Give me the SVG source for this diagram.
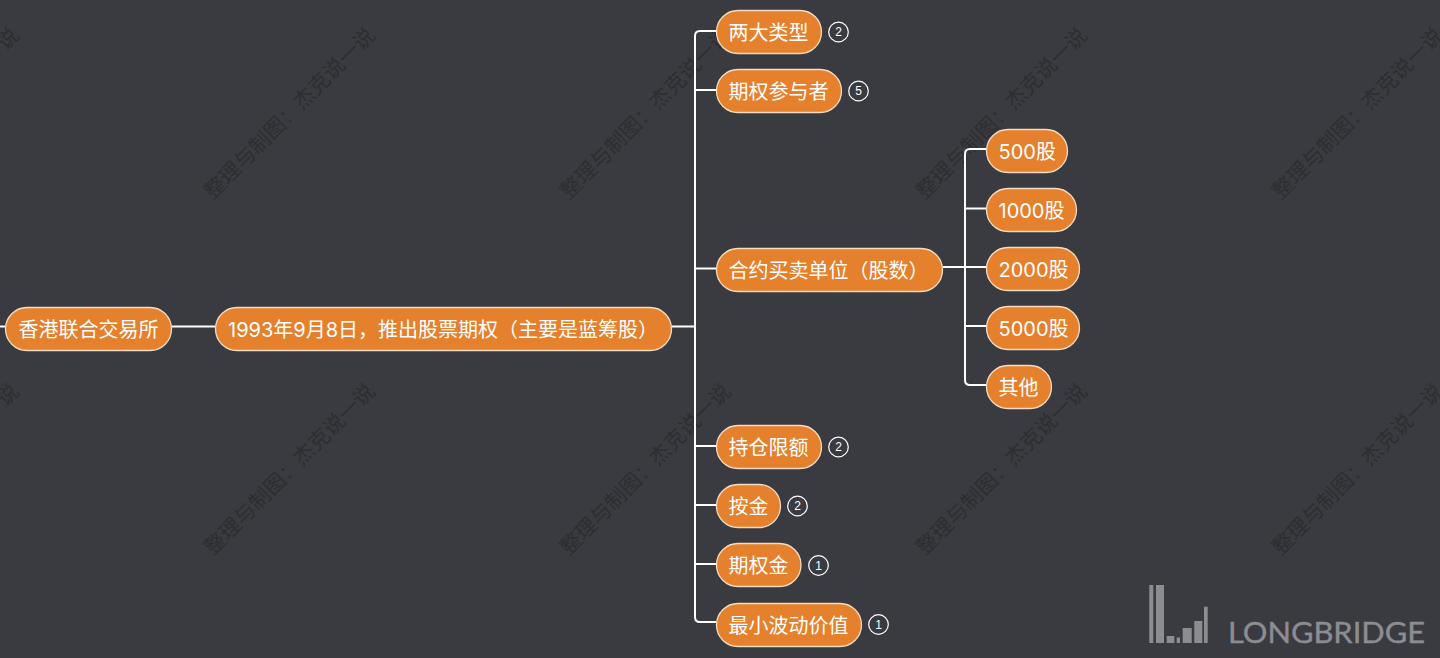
<svg xmlns="http://www.w3.org/2000/svg" width="1440" height="658" viewBox="0 0 1440 658">
<style>
.wm{font:21px "Noto Sans CJK SC","Noto Sans",sans-serif;fill:#2b2c30;opacity:.85}
.n rect{fill:#e5802c;stroke:#f6dcc0;stroke-width:1.3}
.n text{font:20px Inter,"Noto Sans CJK SC",sans-serif;fill:#fff}
.b circle{fill:none;stroke:#fff;stroke-width:1.2}
.b text{font:12px "Liberation Sans",sans-serif;fill:#fff;text-anchor:middle}
.c path{fill:none;stroke:#fff;stroke-width:2}
.l{fill:#8c8d91}
</style>
<defs><text id="w" class="wm" transform="rotate(-45)">整理与制图：杰克说一说</text></defs>
<rect width="1440" height="658" fill="#3a3b40"/>
<g id="watermarks">
<use href="#w" transform="translate(-143 200)"/><use href="#w" transform="translate(213 200)"/><use href="#w" transform="translate(569 200)"/><use href="#w" transform="translate(925 200)"/><use href="#w" transform="translate(1281 200)"/>
<use href="#w" transform="translate(-143 556)"/><use href="#w" transform="translate(213 556)"/><use href="#w" transform="translate(569 556)"/><use href="#w" transform="translate(925 556)"/><use href="#w" transform="translate(1281 556)"/>
</g>
<g id="connectors" class="c">
<path d="M0 326.500H5M172 326.500H215M672 326.500H694"/>
<path d="M716 31H700Q695 31 695 36V617Q695 622 700 622H716"/>
<path d="M695 90H716M695 268.500H716M695 446H716M695 505H716M695 564H716"/>
<path d="M943 267H986"/>
<path d="M986 149H970Q965 149 965 154V380Q965 385 970 385H986"/>
<path d="M965 208.500H986M965 326H986"/>
</g>
<g id="n-root" class="n"><rect x="5.500" y="307.500" width="166" height="43" rx="21.500"/><text x="18.500" y="336.500">香港联合交易所</text></g>
<g id="n-1993" class="n"><rect x="215.500" y="307.500" width="456" height="43" rx="21.500"/><text x="228" y="336.500">1993年9月8日，推出股票期权（主要是蓝筹股）</text></g>
<g id="n-types" class="n"><rect x="716.500" y="10.500" width="105" height="43" rx="21.500"/><text x="728.500" y="39.500">两大类型</text></g>
<g id="b-types" class="b"><circle cx="838.500" cy="32" r="9.800"/><text x="838.500" y="36.300">2</text></g>
<g id="n-part" class="n"><rect x="716.500" y="69.500" width="125" height="43" rx="21.500"/><text x="728.500" y="98.500">期权参与者</text></g>
<g id="b-part" class="b"><circle cx="858.500" cy="91" r="9.800"/><text x="858.500" y="95.300">5</text></g>
<g id="n-unit" class="n"><rect x="716.500" y="248.500" width="226" height="43" rx="21.500"/><text x="728.500" y="277.500">合约买卖单位（股数）</text></g>
<g id="n-limit" class="n"><rect x="716.500" y="425.500" width="105" height="43" rx="21.500"/><text x="728.500" y="454.500">持仓限额</text></g>
<g id="b-limit" class="b"><circle cx="838.500" cy="447" r="9.800"/><text x="838.500" y="451.300">2</text></g>
<g id="n-margin" class="n"><rect x="716.500" y="484.500" width="64" height="43" rx="21.500"/><text x="728.500" y="513.500">按金</text></g>
<g id="b-margin" class="b"><circle cx="797.500" cy="506" r="9.800"/><text x="797.500" y="510.300">2</text></g>
<g id="n-prem" class="n"><rect x="716.500" y="543.500" width="84.500" height="43" rx="21.500"/><text x="728.500" y="572.500">期权金</text></g>
<g id="b-prem" class="b"><circle cx="818.500" cy="565.500" r="9.800"/><text x="818.500" y="569.800">1</text></g>
<g id="n-tick" class="n"><rect x="716.500" y="603.500" width="145" height="43" rx="21.500"/><text x="728.500" y="632.500">最小波动价值</text></g>
<g id="b-tick" class="b"><circle cx="878.500" cy="624.500" r="9.800"/><text x="878.500" y="628.800">1</text></g>
<g id="n-500" class="n"><rect x="986.500" y="129.500" width="81" height="43" rx="21.500"/><text x="998.500" y="158.500">500股</text></g>
<g id="n-1000" class="n"><rect x="986.500" y="188.500" width="90" height="43" rx="21.500"/><text x="998.500" y="217.500">1000股</text></g>
<g id="n-2000" class="n"><rect x="986.500" y="247.500" width="93" height="43" rx="21.500"/><text x="998.500" y="276.500">2000股</text></g>
<g id="n-5000" class="n"><rect x="986.500" y="306.500" width="93" height="43" rx="21.500"/><text x="998.500" y="335.500">5000股</text></g>
<g id="n-other" class="n"><rect x="986.500" y="365.500" width="65" height="43" rx="21.500"/><text x="998.500" y="394.500">其他</text></g>
<g id="logo">
<path class="l" d="M1149.300 585h4v58h-4zM1156 585h8v58h-8zM1166.700 636h7.600v7h-7.600zM1176.700 637.500h3.300v5.500h-3.300zM1182.700 628h9v15h-9zM1194.300 621h8v22h-8zM1204 606.700h3.700V643H1204z"/>
<text x="1228" y="643" class="l" font-family="Lato,sans-serif" font-size="29.500" stroke="#8c8d91" stroke-width=".4" textLength="197" lengthAdjust="spacingAndGlyphs">LONGBRIDGE</text>
</g>
</svg>
